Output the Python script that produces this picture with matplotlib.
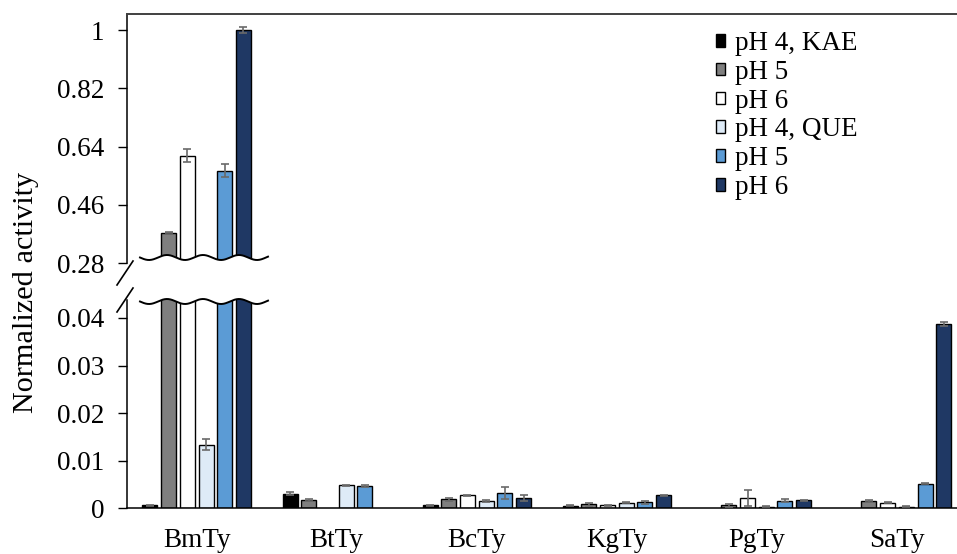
import numpy as np
import matplotlib
matplotlib.use("Agg")
import matplotlib.pyplot as plt
from matplotlib.patches import Polygon, Patch
from matplotlib.lines import Line2D

plt.rcParams['font.family'] = ['Liberation Serif', 'DejaVu Serif']

categories = ["BmTy", "BtTy", "BcTy", "KgTy", "PgTy", "SaTy"]
series_labels = ["pH 4, KAE", "pH 5", "pH 6", "pH 4, QUE", "pH 5", "pH 6"]
series_colors = ["#000000", "#7f7f7f", "#ffffff", "#deebf7", "#5b9bd5", "#1f3864"]

# normalized activity per series (nan = no bar)
kae_ph4 = [0.0006, 0.0031, 0.0006, 0.00055, np.nan, np.nan]
kae_ph5 = [0.374, 0.0018, 0.0019, 0.0008, 0.0006, 0.0016]
kae_ph6 = [0.612, np.nan, 0.0027, 0.0006, 0.0022, 0.0012]
que_ph4 = [0.0134, 0.0048, 0.0015, 0.0012, 0.00035, 0.0003]
que_ph5 = [0.566, 0.0046, 0.0032, 0.0013, 0.0016, 0.0052]
que_ph6 = [1.0, np.nan, 0.0022, 0.0027, 0.0017, 0.0387]

kae_ph4_err = [0.0001, 0.0004, 0.0001, 0.0001, np.nan, np.nan]
kae_ph5_err = [0.002, 0.0002, 0.0003, 0.0003, 0.0003, 0.0002]
kae_ph6_err = [0.021, np.nan, 0.0001, 0.0001, 0.0017, 0.0001]
que_ph4_err = [0.0012, 0.0001, 0.0002, 0.0001, 0.0001, 0.0001]
que_ph5_err = [0.021, 0.0002, 0.0013, 0.0003, 0.0003, 0.0001]
que_ph6_err = [0.01, np.nan, 0.0006, 0.0001, 0.0001, 0.0004]

series_values = [kae_ph4, kae_ph5, kae_ph6, que_ph4, que_ph5, que_ph6]
series_errors = [kae_ph4_err, kae_ph5_err, kae_ph6_err, que_ph4_err, que_ph5_err, que_ph6_err]

upper_ticks = [0.28, 0.46, 0.64, 0.82, 1.0]
upper_ticklabels = ["0.28", "0.46", "0.64", "0.82", "1"]
lower_ticks = [0.0, 0.01, 0.02, 0.03, 0.04]
lower_ticklabels = ["0", "0.01", "0.02", "0.03", "0.04"]

FS = 19.5
W, H = 957, 554
fig = plt.figure(figsize=(W / 100, H / 100), dpi=100)


def fx(px):
    return px / W


def fy(py):
    return 1 - py / H


left_px, right_px = 126.7, 967.0
ax_top = fig.add_axes([fx(left_px), fy(263.2), (right_px - left_px) / W, (263.2 - 14) / H])
ax_bot = fig.add_axes([fx(left_px), fy(508.3), (right_px - left_px) / W, (508.3 - 300) / H])

x = np.arange(len(categories))
pitch = 0.1335
bar_w = 0.107

for ax in (ax_top, ax_bot):
    for j, (vals, errs, col) in enumerate(zip(series_values, series_errors, series_colors)):
        vals = np.asarray(vals, dtype=float)
        errs = np.asarray(errs, dtype=float)
        ok = np.isfinite(vals)
        xs = x[ok] + (j - 2.5) * pitch
        ax.bar(xs, vals[ok], bar_w, color=col, edgecolor="black", linewidth=1.0, zorder=2)
        e_ok = ok & np.isfinite(errs)
        ax.errorbar(x[e_ok] + (j - 2.5) * pitch, vals[e_ok], yerr=errs[e_ok], fmt="none",
                    ecolor="#6a6a6a", elinewidth=1.2, capsize=3.2, capthick=1.2, zorder=3)
    ax.set_xlim(-0.5, 5.5)
    ax.spines["right"].set_visible(False)
    ax.tick_params(axis="y", direction="out", length=6.2, width=1.0, pad=10, labelsize=FS)
    for s in ax.spines.values():
        s.set_linewidth(1.1)

ax_top.set_ylim(0.28, 0.28 + (263.2 - 14) / 58.3 * 0.18)
ax_top.set_yticks(upper_ticks)
ax_top.set_yticklabels(upper_ticklabels)
ax_top.spines["bottom"].set_visible(False)
ax_top.spines["top"].set_color("#404040")
ax_top.spines["top"].set_linewidth(1.4)
ax_top.set_xticks([])

ax_bot.set_ylim(0, (508.3 - 300) / 4760)
ax_bot.set_yticks(lower_ticks)
ax_bot.set_yticklabels(lower_ticklabels)
ax_bot.spines["top"].set_visible(False)
ax_bot.set_xticks(x)
ax_bot.set_xticklabels(categories)
ax_bot.tick_params(axis="x", length=0, pad=14.5, labelsize=FS)

# wavy break band across the tall group
xw = np.linspace(140, 268, 200)
period, amp = 36.0, 2.5
wave_hi = 257.5 + amp * np.sin(2 * np.pi * (xw - 140) / period)
wave_lo = 301.5 + amp * np.sin(2 * np.pi * (xw - 140) / period)
band = np.vstack([np.column_stack([fx(xw), fy(wave_hi)]),
                  np.column_stack([fx(xw[::-1]), fy(wave_lo[::-1])])])
fig.patches.append(Polygon(band, closed=True, facecolor="white", edgecolor="none",
                           transform=fig.transFigure, zorder=10))
for wv in (wave_hi, wave_lo):
    fig.lines.append(Line2D(fx(xw), fy(wv), color="black", linewidth=1.4,
                            transform=fig.transFigure, zorder=11))

# axis break marks on the left spine
for (x0, y0, x1, y1) in [(133, 261, 117, 285), (133, 288, 117, 312)]:
    fig.lines.append(Line2D([fx(x0), fx(x1)], [fy(y0), fy(y1)], color="black", linewidth=1.2,
                            transform=fig.transFigure, zorder=11))

fig.text(fx(26), fy(292), "Normalized activity", rotation=90, ha="center", va="center",
         fontsize=21.8)

handles = [Patch(facecolor=c, edgecolor="black", linewidth=1.0) for c in series_colors]
fig.legend(handles, series_labels, loc="upper left", bbox_to_anchor=(fx(716), fy(31)),
           bbox_transform=fig.transFigure, frameon=False, fontsize=FS,
           handlelength=0.34, handleheight=0.34, handletextpad=0.35, labelspacing=0.14,
           borderpad=0, borderaxespad=0)

fig.savefig("out.png", dpi=100)
